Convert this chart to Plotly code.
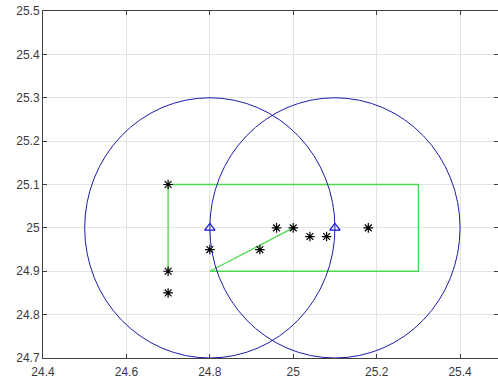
import plotly.graph_objects as go

# Data
path_x = [24.7, 24.7, 25.3, 25.3, 24.8, 25.0]
path_y = [24.9, 25.1, 25.1, 24.9, 24.9, 25.0]

star_x = [24.7, 24.7, 24.7, 24.8, 24.92, 24.96, 25.0, 25.04, 25.08, 25.18]
star_y = [25.1, 24.9, 24.85, 24.95, 24.95, 25.0, 25.0, 24.98, 24.98, 25.0]

tri_x = [24.8, 25.1]
tri_y = [25.0, 25.0]

circle_cx = [24.8, 25.1]
circle_cy = [25.0, 25.0]
circle_r = [0.3, 0.3]

x_ticks = [24.4, 24.6, 24.8, 25.0, 25.2, 25.4]
x_ticklabels = ["24.4", "24.6", "24.8", "25", "25.2", "25.4"]
y_ticks = [24.7, 24.8, 24.9, 25.0, 25.1, 25.2, 25.3, 25.4, 25.5]
y_ticklabels = ["24.7", "24.8", "24.9", "25", "25.1", "25.2", "25.3", "25.4", "25.5"]

fig = go.Figure()

for cx, cy, r in zip(circle_cx, circle_cy, circle_r):
    fig.add_shape(type="circle", xref="x", yref="y",
                  x0=cx - r, x1=cx + r, y0=cy - r, y1=cy + r,
                  line=dict(color="#1c1ca8", width=1), layer="above")

fig.add_trace(go.Scatter(x=path_x, y=path_y, mode="lines",
                         line=dict(color="#4cd94c", width=1.3), showlegend=False))
fig.add_trace(go.Scatter(x=tri_x, y=tri_y, mode="markers",
                         marker=dict(symbol="triangle-up-open", size=9, color="#1010e0",
                                     line=dict(width=1.2)), showlegend=False))
fig.add_trace(go.Scatter(x=star_x, y=star_y, mode="markers",
                         marker=dict(symbol="asterisk-open", size=8, color="black",
                                     line=dict(width=1.2, color="black")), showlegend=False))

axis_common = dict(
    showgrid=True, gridcolor="#e3e3e3", gridwidth=1,
    showline=True, linecolor="#404040", linewidth=1, mirror="ticks",
    ticks="inside", ticklen=4, tickcolor="#404040",
    zeroline=False, automargin=False,
    tickfont=dict(family="Liberation Sans, Arial, sans-serif", size=12, color="#3a3a3a"),
)

fig.update_layout(
    width=498, height=383,
    margin=dict(l=43, r=0, t=11, b=25),
    paper_bgcolor="white", plot_bgcolor="white",
    xaxis=dict(range=[24.4, 25.491], tickvals=x_ticks, ticktext=x_ticklabels,
               ticklabelstandoff=3, **axis_common),
    yaxis=dict(range=[24.7, 25.5], tickvals=y_ticks, ticktext=y_ticklabels, **axis_common),
)

fig.write_html("out.html",
               config={"displayModeBar": False},
               post_script="document.body.style.margin='0px';document.body.style.overflow='hidden';")
